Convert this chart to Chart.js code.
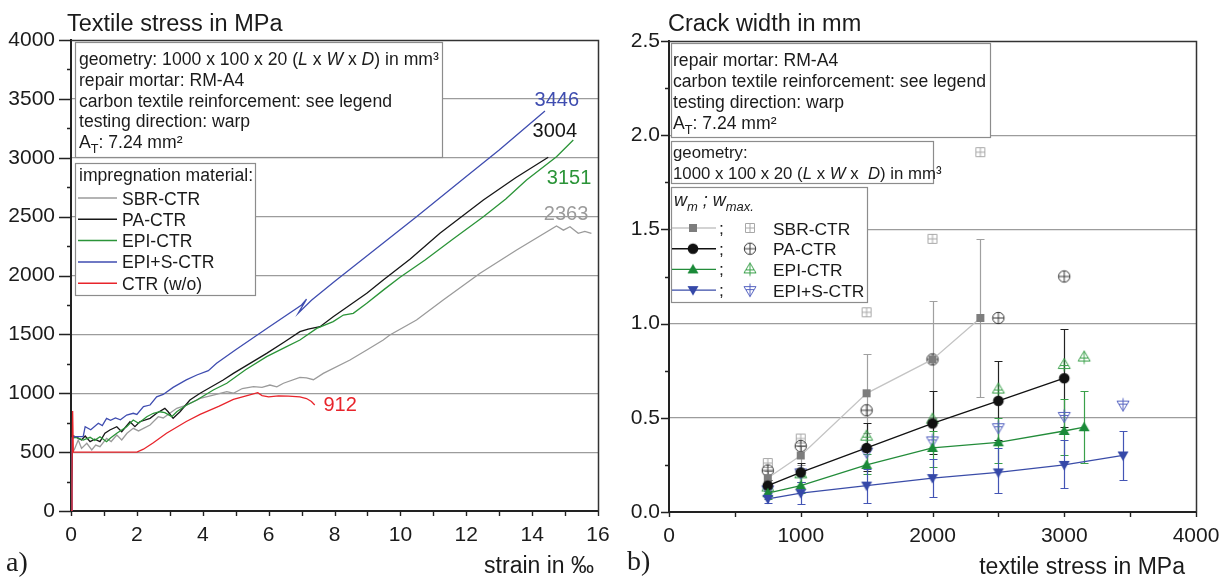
<!DOCTYPE html>
<html>
<head>
<meta charset="utf-8">
<script src="https://cdn.jsdelivr.net/npm/chart.js@4.4.1/dist/chart.umd.min.js"></script>
<style>
html, body { margin: 0; padding: 0; background: #fff; }
#wrap { position: relative; width: 1225px; height: 579px; }
canvas { position: absolute; top: 0; }
#cA { left: 0; }
#cB { left: 612px; }
</style>
</head>
<body>
<div id="wrap">
  <canvas id="cA" width="612" height="579"></canvas>
  <canvas id="cB" width="613" height="579"></canvas>
</div>
<script>
// ---- a) stress-strain curves (strain in per mille, stress in MPa)
var sbrStrain = [0, 0.02, 0.04, 0.1, 0.22, 0.32, 0.48, 0.63, 0.75, 0.88, 1.08, 1.22, 1.39, 1.54, 1.7, 1.89, 2.05, 2.4, 2.65, 2.8, 3.0, 3.21, 3.51, 3.92, 4.32, 4.73, 4.93, 5.2, 5.54, 5.8, 6.04, 6.25, 6.45, 6.95, 7.15, 7.36, 7.66, 8.47, 8.98, 9.48, 9.68, 10.49, 11.3, 12.42, 13.53, 14.74, 14.95, 15.15, 15.4, 15.6, 15.8];
var sbrStress = [0, 250, 500, 520, 603, 532, 575, 518, 560, 546, 617, 590, 645, 603, 660, 702, 680, 730, 801, 790, 830, 872, 900, 957, 985, 1013, 1000, 1040, 1056, 1050, 1070, 1055, 1085, 1135, 1130, 1115, 1169, 1282, 1367, 1452, 1495, 1622, 1792, 2019, 2217, 2420, 2385, 2414, 2358, 2375, 2358];

var paStrain = [0, 0.04, 0.15, 0.32, 0.43, 0.58, 0.72, 0.88, 1.03, 1.18, 1.39, 1.54, 1.79, 1.94, 2.09, 2.4, 2.6, 2.85, 2.95, 3.1, 3.31, 3.61, 3.92, 4.62, 4.93, 5.94, 6.5, 6.95, 7.2, 7.56, 7.96, 8.47, 8.98, 9.48, 10.3, 11.2, 12.52, 13.5, 14.49];
var paStress = [0, 640, 630, 603, 637, 589, 610, 589, 660, 688, 716, 673, 758, 716, 758, 787, 830, 872, 843, 787, 843, 943, 1000, 1113, 1169, 1339, 1440, 1523, 1545, 1565, 1650, 1749, 1849, 1962, 2140, 2358, 2641, 2830, 3004];

var epiStrain = [0, 0.04, 0.15, 0.37, 0.58, 0.72, 0.88, 1.08, 1.2, 1.39, 1.69, 1.89, 2.05, 2.3, 2.5, 2.7, 2.85, 3.06, 3.21, 3.51, 3.82, 4.32, 4.73, 5.3, 5.94, 6.5, 6.95, 7.46, 7.96, 8.27, 8.57, 8.98, 9.5, 9.99, 10.75, 11.6, 12.52, 13.2, 13.83, 14.74, 15.25];
var epiStress = [0, 620, 625, 603, 626, 600, 631, 589, 620, 660, 716, 773, 745, 801, 830, 843, 835, 801, 843, 900, 943, 1028, 1085, 1200, 1311, 1390, 1452, 1551, 1608, 1664, 1679, 1764, 1880, 1985, 2132, 2310, 2499, 2650, 2811, 3009, 3151];

var episStrain = [0, 0.03, 0.1, 0.37, 0.43, 0.6, 0.83, 0.95, 1.08, 1.2, 1.35, 1.5, 1.69, 1.89, 2.0, 2.2, 2.4, 2.6, 2.8, 3.1, 3.5, 3.82, 4.17, 4.42, 5.0, 6.0, 7.0, 7.15, 6.9, 7.3, 8.0, 9.0, 10.49, 12.0, 13.0, 14.39];
var episStress = [0, 620, 631, 631, 716, 690, 745, 725, 787, 770, 790, 775, 815, 830, 820, 886, 900, 970, 990, 1050, 1113, 1155, 1192, 1254, 1370, 1560, 1750, 1800, 1680, 1790, 1950, 2170, 2499, 2840, 3065, 3397];

var ctrStrain = [0, 0.03, 0.05, 0.07, 0.1, 2.0, 2.2, 2.5, 2.9, 3.5, 3.92, 4.5, 4.93, 5.4, 5.67, 5.8, 6.0, 6.3, 6.6, 6.95, 7.15, 7.3, 7.4];
var ctrStress = [0, 300, 850, 500, 500, 500, 525, 580, 660, 760, 820, 890, 948, 985, 1005, 980, 970, 978, 975, 970, 955, 930, 900];

// end values written next to the curves
var endLabels = ['3446', '3004', '3151', '2363', '912'];

// ---- b) crack width (mm) over textile stress (MPa)
var sbrLoad = [750, 1000, 1500, 2000, 2363];
var sbrWm = [0.18, 0.30, 0.63, 0.81, 1.03];
var sbrLo = [0.15, 0.25, 0.42, 0.50, 0.61];
var sbrHi = [0.22, 0.35, 0.84, 1.12, 1.45];
var sbrWmax = [0.26, 0.39, 1.06, 1.45, 1.91];

var paLoad = [750, 1000, 1500, 2000, 2500, 3000];
var paWm = [0.14, 0.21, 0.34, 0.47, 0.59, 0.71];
var paLo = [0.11, 0.16, 0.22, 0.31, 0.38, 0.45];
var paHi = [0.17, 0.26, 0.47, 0.64, 0.80, 0.97];
var paWmax = [0.22, 0.35, 0.54, 0.81, 1.03, 1.25];

var epiLoad = [750, 1000, 1500, 2000, 2500, 3000, 3151];
var epiWm = [0.10, 0.14, 0.25, 0.34, 0.37, 0.43, 0.45];
var epiLo = [0.07, 0.10, 0.20, 0.24, 0.26, 0.30, 0.26];
var epiHi = [0.13, 0.19, 0.31, 0.43, 0.50, 0.60, 0.64];
var epiWmax = [0.13, 0.20, 0.40, 0.49, 0.65, 0.78, 0.82];

var episLoad = [750, 1000, 1500, 2000, 2500, 3000, 3446];
var episWm = [0.07, 0.10, 0.14, 0.18, 0.21, 0.25, 0.30];
var episLo = [0.05, 0.04, 0.05, 0.08, 0.10, 0.13, 0.17];
var episHi = [0.10, 0.16, 0.23, 0.28, 0.34, 0.38, 0.43];
var episWmax = [0.12, 0.21, 0.32, 0.38, 0.45, 0.51, 0.57];

var FONT = '"Liberation Sans", Arial, Helvetica, sans-serif';
var INK = '#1b1b1b';
Chart.defaults.font.family = FONT;

var colA = { sbr: '#9b9b9b', pa: '#161616', epi: '#2b9438', epis: '#3f4db0', ctr: '#e8242b' };

function pts(xs, ys) {
    return xs.map(function (x, i) { return { x: x, y: ys[i] }; });
}

function box(ctx, x1, y1, x2, y2) {
    ctx.fillStyle = '#fff';
    ctx.fillRect(x1, y1, x2 - x1, y2 - y1);
    ctx.strokeStyle = '#8c8c8c';
    ctx.lineWidth = 1.2;
    ctx.strokeRect(x1 + 0.5, y1 + 0.5, x2 - x1, y2 - y1);
}

// segments: [text, flags] with i = italic, s = subscript
function rich(ctx, segs, x, y, size) {
    if (typeof segs === 'string') segs = [[segs]];
    ctx.fillStyle = INK;
    ctx.textAlign = 'left';
    ctx.textBaseline = 'alphabetic';
    segs.forEach(function (s) {
        var f = s[1] || '';
        var sub = f.indexOf('s') >= 0;
        var sz = sub ? size * 0.72 : size;
        ctx.font = (f.indexOf('i') >= 0 ? 'italic ' : '') + sz + 'px ' + FONT;
        ctx.fillText(s[0], x, y + (sub ? size * 0.3 : 0));
        x += ctx.measureText(s[0]).width;
    });
}

function frameAndTicks(chart, xLen, yMajor, yMinor, isMajorY) {
    var ctx = chart.ctx, a = chart.chartArea, sx = chart.scales.x, sy = chart.scales.y;
    ctx.save();
    ctx.strokeStyle = '#222';
    ctx.lineWidth = 1.4;
    ctx.beginPath();
    sx.ticks.forEach(function (t) {
        var p = Math.round(sx.getPixelForValue(t.value)) + 0.5;
        ctx.moveTo(p, a.bottom);
        ctx.lineTo(p, a.bottom + xLen);
    });
    sy.ticks.forEach(function (t) {
        var p = Math.round(sy.getPixelForValue(t.value)) + 0.5;
        ctx.moveTo(a.left, p);
        ctx.lineTo(a.left - (isMajorY(t.value) ? yMajor : yMinor), p);
    });
    ctx.stroke();
    ctx.strokeStyle = '#333';
    ctx.lineWidth = 1.5;
    ctx.beginPath();
    ctx.moveTo(a.left, a.top + 0.5);
    ctx.lineTo(a.right + 0.5, a.top + 0.5);
    ctx.lineTo(a.right + 0.5, a.bottom);
    ctx.stroke();
    ctx.restore();
}

function plainText(ctx, t, x, y, size, align, family) {
    ctx.font = size + 'px ' + (family || FONT);
    ctx.fillStyle = INK;
    ctx.textAlign = align || 'left';
    ctx.textBaseline = 'alphabetic';
    ctx.fillText(t, x, y);
}

// small marker images, centred at (9, 9)
function marker(kind, color) {
    var c = document.createElement('canvas');
    c.width = 18; c.height = 18;
    var g = c.getContext('2d');
    g.fillStyle = color; g.strokeStyle = color; g.lineWidth = 1;
    g.beginPath();
    if (kind === 'square') {
        g.fillRect(5, 5, 8, 8);
    } else if (kind === 'circle') {
        g.arc(9, 9, 5.3, 0, 2 * Math.PI); g.fill();
    } else if (kind === 'up') {
        g.moveTo(9, 3.5); g.lineTo(14.5, 13); g.lineTo(3.5, 13); g.closePath(); g.fill();
    } else if (kind === 'down') {
        g.moveTo(9, 14.5); g.lineTo(14.5, 5); g.lineTo(3.5, 5); g.closePath(); g.fill();
    } else if (kind === 'squarePlus') {
        g.rect(4.5, 4.5, 9, 9); g.moveTo(9, 4.5); g.lineTo(9, 13.5); g.moveTo(4.5, 9); g.lineTo(13.5, 9); g.stroke();
    } else if (kind === 'circlePlus') {
        g.arc(9, 9, 5.7, 0, 2 * Math.PI); g.moveTo(3.3, 9); g.lineTo(14.7, 9); g.moveTo(9, 3.3); g.lineTo(9, 14.7); g.stroke();
    } else if (kind === 'upPlus') {
        g.moveTo(9, 2.5); g.lineTo(15, 12.5); g.lineTo(3, 12.5); g.closePath();
        g.moveTo(9, 2.5); g.lineTo(9, 15.5); g.moveTo(5, 9.5); g.lineTo(13, 9.5); g.stroke();
    } else if (kind === 'downPlus') {
        g.moveTo(9, 15.5); g.lineTo(15, 5.5); g.lineTo(3, 5.5); g.closePath();
        g.moveTo(9, 15.5); g.lineTo(9, 2.5); g.moveTo(5, 8.5); g.lineTo(13, 8.5); g.stroke();
    }
    return c;
}

// keep the plot box where the layout padding puts it
function fixX(h) {
    return function (s) { s.height = h; s.paddingLeft = 0; s.paddingRight = 0; };
}
function fixY(w) {
    return function (s) { s.width = w; s.paddingTop = 0; s.paddingBottom = 0; };
}

// ===================== panel a =====================
var decorA = {
    id: 'decorA',
    beforeDatasetsDraw: function (chart) {
        var ctx = chart.ctx;
        ctx.save();
        box(ctx, 75, 42, 442, 157);
        var info = [
            [['geometry: 1000 x 100 x 20 ('], ['L', 'i'], [' x '], ['W', 'i'], [' x '], ['D', 'i'], [') in mm³']],
            'repair mortar: RM-A4',
            'carbon textile reinforcement: see legend',
            'testing direction: warp',
            [['A'], ['T', 's'], [': 7.24 mm²']]
        ];
        info.forEach(function (l, i) { rich(ctx, l, 79, 65 + i * 20.8, 17.6); });

        box(ctx, 75, 163, 255, 295);
        rich(ctx, 'impregnation material:', 79, 181, 17.6);
        var rows = [['SBR-CTR', colA.sbr], ['PA-CTR', colA.pa], ['EPI-CTR', colA.epi], ['EPI+S-CTR', colA.epis], ['CTR (w/o)', colA.ctr]];
        rows.forEach(function (r, i) {
            var y = 198 + i * 21.3;
            ctx.strokeStyle = r[1];
            ctx.lineWidth = 1.5;
            ctx.beginPath(); ctx.moveTo(78, y); ctx.lineTo(117, y); ctx.stroke();
            rich(ctx, r[0], 122, y + 6.5, 17.6);
        });
        ctx.restore();
    },
    afterDatasetsDraw: function (chart) {
        var ctx = chart.ctx, sx = chart.scales.x, sy = chart.scales.y;
        var spots = [[14.75, 3490, colA.epis], [14.69, 3227, colA.pa], [15.12, 2828, colA.epi], [15.03, 2522, colA.sbr], [8.17, 900, colA.ctr]];
        ctx.save();
        ctx.font = '20px ' + FONT;
        ctx.textAlign = 'center';
        ctx.textBaseline = 'middle';
        endLabels.forEach(function (t, i) {
            ctx.fillStyle = spots[i][2];
            ctx.fillText(t, sx.getPixelForValue(spots[i][0]), sy.getPixelForValue(spots[i][1]));
        });
        ctx.restore();
    },
    afterDraw: function (chart) {
        var ctx = chart.ctx;
        frameAndTicks(chart, 5, 12, 4, function (v) { return v % 500 === 0; });
        ctx.save();
        plainText(ctx, 'Textile stress in MPa', 67, 31, 23.5);
        plainText(ctx, 'strain in ‰', 594, 573, 23, 'right');
        plainText(ctx, 'a)', 6, 571, 28, 'left', '"Liberation Serif", "Times New Roman", serif');
        ctx.restore();
    }
};

function lineSet(label, xs, ys, color) {
    return { label: label, data: pts(xs, ys), borderColor: color, borderWidth: 1.3, pointRadius: 0, tension: 0, fill: false };
}

new Chart(document.getElementById('cA'), {
    type: 'line',
    data: {
        datasets: [
            lineSet('CTR (w/o)', ctrStrain, ctrStress, colA.ctr),
            lineSet('EPI+S-CTR', episStrain, episStress, colA.epis),
            lineSet('EPI-CTR', epiStrain, epiStress, colA.epi),
            lineSet('PA-CTR', paStrain, paStress, colA.pa),
            lineSet('SBR-CTR', sbrStrain, sbrStress, colA.sbr)
        ]
    },
    options: {
        responsive: false,
        animation: false,
        layout: { padding: { left: 0, top: 40, right: 14, bottom: 0 } },
        plugins: { legend: { display: false }, tooltip: { enabled: false } },
        scales: {
            x: {
                type: 'linear', min: 0, max: 16,
                afterFit: fixX(68),
                ticks: {
                    stepSize: 1, autoSkip: false, maxRotation: 0, padding: 12, color: INK,
                    font: { size: 21 },
                    callback: function (v) { return v % 2 === 0 ? v : ''; }
                },
                grid: { display: false, drawTicks: false },
                border: { display: true, width: 2, color: '#222' }
            },
            y: {
                min: 0, max: 4000,
                afterFit: fixY(71),
                ticks: {
                    stepSize: 250, autoSkip: false, padding: 16, color: INK,
                    font: { size: 21 },
                    callback: function (v) { return v % 500 === 0 ? v : ''; }
                },
                grid: {
                    drawTicks: false, lineWidth: 1.2,
                    color: function (c) {
                        var v = c.tick ? c.tick.value : 0;
                        return (v % 500 === 0 && v > 0 && v < 4000) ? '#9c9c9c' : 'rgba(0,0,0,0)';
                    }
                },
                border: { display: true, width: 2, color: '#222' }
            }
        }
    },
    plugins: [decorA]
});

// ===================== panel b =====================
var mk = {
    sbr: marker('square', '#7d7d7d'), sbrMax: marker('squarePlus', '#a8a8a8'),
    pa: marker('circle', '#111'), paMax: marker('circlePlus', '#3a3a3a'),
    epi: marker('up', '#1a8a38'), epiMax: marker('upPlus', '#3aa04a'),
    epis: marker('down', '#3548a8'), episMax: marker('downPlus', '#5563c0')
};
var colB = { sbr: '#c4c4c4', pa: '#111', epi: '#238c3a', epis: '#3a4ca8' };
var errB = [
    { xs: sbrLoad, lo: sbrLo, hi: sbrHi, color: '#a0a0a0' },
    { xs: paLoad, lo: paLo, hi: paHi, color: '#222' },
    { xs: epiLoad, lo: epiLo, hi: epiHi, color: '#3aa04a' },
    { xs: episLoad, lo: episLo, hi: episHi, color: '#4455b5' }
];

var decorB = {
    id: 'decorB',
    beforeDatasetsDraw: function (chart) {
        var ctx = chart.ctx, sx = chart.scales.x, sy = chart.scales.y;
        ctx.save();
        box(ctx, 59, 43, 378, 137);
        var info = [
            'repair mortar: RM-A4',
            'carbon textile reinforcement: see legend',
            'testing direction: warp',
            [['A'], ['T', 's'], [': 7.24 mm²']]
        ];
        info.forEach(function (l, i) { rich(ctx, l, 61, 66 + i * 21, 17.6); });

        box(ctx, 59, 141, 321, 183);
        rich(ctx, 'geometry:', 61, 158, 16.8);
        rich(ctx, [['1000 x 100 x 20 ('], ['L', 'i'], [' x '], ['W', 'i'], [' x  '], ['D', 'i'], [') in mm³']], 61, 179, 16.8);

        box(ctx, 59, 187, 255, 302);
        rich(ctx, [['w', 'i'], ['m', 'is'], [' ; ', 'i'], ['w', 'i'], ['max.', 'is']], 62, 206, 18);
        var rows = [
            ['SBR-CTR', colB.sbr, mk.sbr, mk.sbrMax],
            ['PA-CTR', colB.pa, mk.pa, mk.paMax],
            ['EPI-CTR', colB.epi, mk.epi, mk.epiMax],
            ['EPI+S-CTR', colB.epis, mk.epis, mk.episMax]
        ];
        rows.forEach(function (r, i) {
            var y = 228 + i * 20.7;
            ctx.strokeStyle = r[1];
            ctx.lineWidth = 1.4;
            ctx.beginPath(); ctx.moveTo(60, y); ctx.lineTo(104, y); ctx.stroke();
            ctx.drawImage(r[2], 81 - 9, y - 9);
            rich(ctx, ';', 107, y + 6, 17.4);
            ctx.drawImage(r[3], 138 - 9, y - 9);
            rich(ctx, r[0], 161, y + 6.5, 17.4);
        });

        // error bars of w_m
        errB.forEach(function (s) {
            ctx.strokeStyle = s.color;
            ctx.lineWidth = 1.2;
            ctx.beginPath();
            s.xs.forEach(function (x, i) {
                var px = Math.round(sx.getPixelForValue(x)) + 0.5;
                var lo = Math.round(sy.getPixelForValue(s.lo[i])) + 0.5;
                var hi = Math.round(sy.getPixelForValue(s.hi[i])) + 0.5;
                ctx.moveTo(px, lo); ctx.lineTo(px, hi);
                ctx.moveTo(px - 4, lo); ctx.lineTo(px + 4, lo);
                ctx.moveTo(px - 4, hi); ctx.lineTo(px + 4, hi);
            });
            ctx.stroke();
        });
        ctx.restore();
    },
    afterDraw: function (chart) {
        var ctx = chart.ctx;
        frameAndTicks(chart, 5, 8, 4, function (v) { return Math.round(v * 4) % 2 === 0; });
        ctx.save();
        plainText(ctx, 'Crack width in mm', 56, 31, 23.5);
        plainText(ctx, 'textile stress in MPa', 573, 574, 23, 'right');
        plainText(ctx, 'b)', 15, 570, 28, 'left', '"Liberation Serif", "Times New Roman", serif');
        ctx.restore();
    }
};

function wmSet(label, xs, ys, color, img) {
    return { label: label, data: pts(xs, ys), borderColor: color, borderWidth: 1.3, pointStyle: img, pointRadius: 5, showLine: true, tension: 0, order: 1 };
}
function wmaxSet(label, xs, ys, img) {
    return { label: label, data: pts(xs, ys), borderColor: 'rgba(0,0,0,0)', pointStyle: img, pointRadius: 5, showLine: false, order: 2 };
}

new Chart(document.getElementById('cB'), {
    type: 'line',
    data: {
        datasets: [
            wmSet('EPI+S-CTR w_m', episLoad, episWm, colB.epis, mk.epis),
            wmSet('EPI-CTR w_m', epiLoad, epiWm, colB.epi, mk.epi),
            wmSet('PA-CTR w_m', paLoad, paWm, colB.pa, mk.pa),
            wmSet('SBR-CTR w_m', sbrLoad, sbrWm, colB.sbr, mk.sbr),
            wmaxSet('EPI+S-CTR w_max', episLoad, episWmax, mk.episMax),
            wmaxSet('EPI-CTR w_max', epiLoad, epiWmax, mk.epiMax),
            wmaxSet('PA-CTR w_max', paLoad, paWmax, mk.paMax),
            wmaxSet('SBR-CTR w_max', sbrLoad, sbrWmax, mk.sbrMax)
        ]
    },
    options: {
        responsive: false,
        animation: false,
        layout: { padding: { left: 0, top: 41, right: 29, bottom: 0 } },
        plugins: { legend: { display: false }, tooltip: { enabled: false } },
        scales: {
            x: {
                type: 'linear', min: 0, max: 4000,
                afterFit: fixX(67),
                ticks: {
                    stepSize: 500, autoSkip: false, maxRotation: 0, padding: 12, color: INK,
                    font: { size: 21 },
                    callback: function (v) { return v % 1000 === 0 ? v : ''; }
                },
                grid: { display: false, drawTicks: false },
                border: { display: true, width: 2, color: '#222' }
            },
            y: {
                min: 0, max: 2.5,
                afterFit: fixY(57),
                ticks: {
                    stepSize: 0.25, autoSkip: false, padding: 9, color: INK,
                    font: { size: 21 },
                    callback: function (v) { return Math.round(v * 4) % 2 === 0 ? v.toFixed(1) : ''; }
                },
                grid: {
                    drawTicks: false, lineWidth: 1.2,
                    color: function (c) {
                        var v = c.tick ? c.tick.value : 0;
                        return (Math.round(v * 4) % 2 === 0 && v > 0.01 && v < 2.49) ? '#9c9c9c' : 'rgba(0,0,0,0)';
                    }
                },
                border: { display: true, width: 2, color: '#222' }
            }
        }
    },
    plugins: [decorB]
});
</script>
</body>
</html>
